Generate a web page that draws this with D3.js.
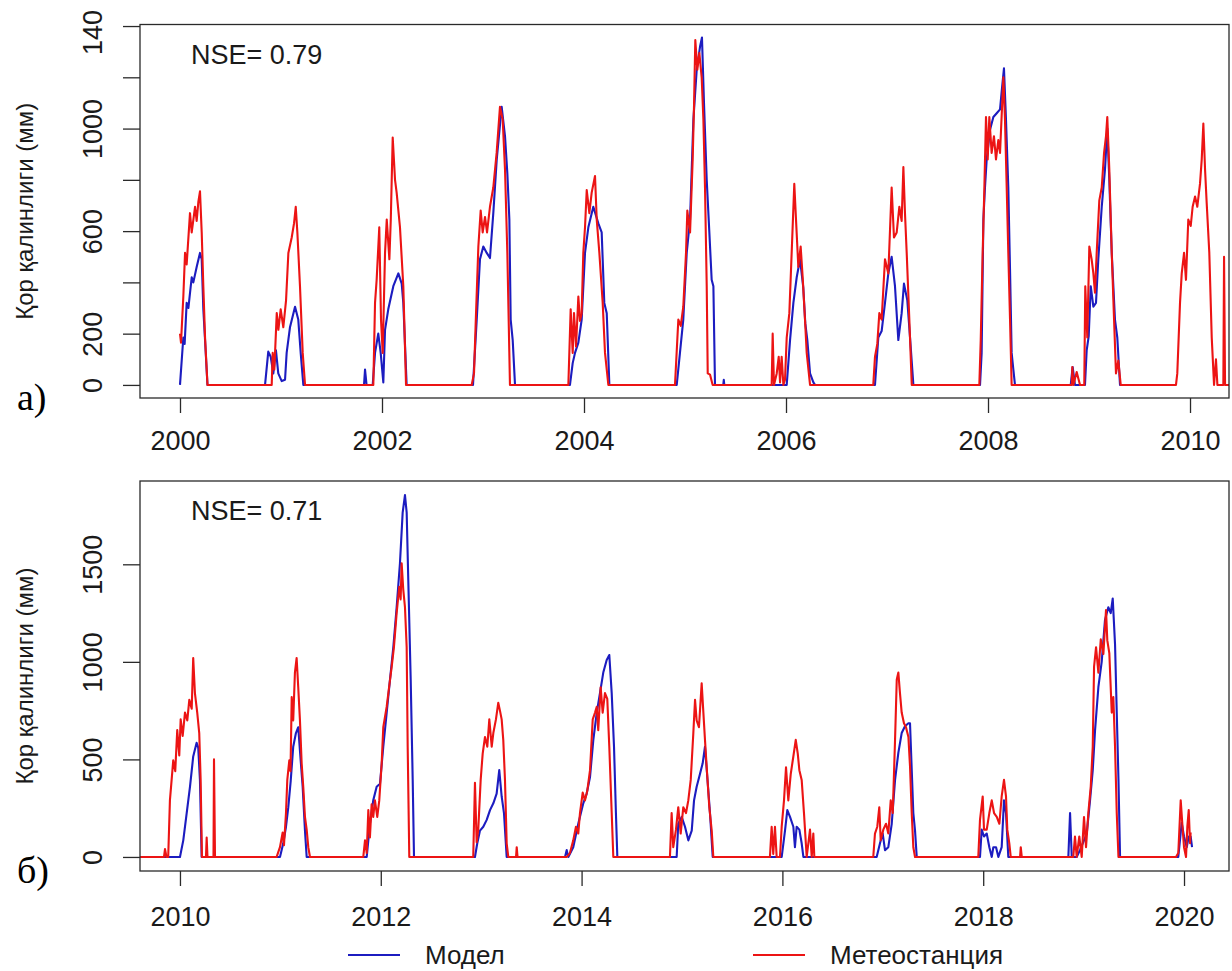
<!DOCTYPE html>
<html>
<head>
<meta charset="utf-8">
<script src="https://cdn.jsdelivr.net/npm/d3@7"></script>
<style>
  body { margin: 0; background: #fff; }
  svg { display: block; }
  text { font-family: "Liberation Sans", Arial, sans-serif; fill: #1a1a1a; }
  .tag { font-family: "Liberation Serif", "Times New Roman", serif; fill: #000; }
</style>
</head>
<body>
<svg></svg>
<script>
// series names / colours
var seriesNames = ["Модел", "Метеостанция"];
var seriesColors = ["#1c1cc0", "#ec1414"];
var yTitle = "Қор қалинлиги (мм)";

// panel a) ticks
var yearTicksA = [2000, 2002, 2004, 2006, 2008, 2010];
var depthTicksA = [0, 200, 400, 600, 800, 1000, 1200, 1400];
var depthLabelsA = ["0", "200", "", "600", "", "1000", "", "140"];
// panel б) ticks
var yearTicksB = [2010, 2012, 2014, 2016, 2018, 2020];
var depthTicksB = [0, 500, 1000, 1500];
var depthLabelsB = ["0", "500", "1000", "1500"];

// [year, snow depth mm]
var stationA = [
  [2000.000,200],[2000.010,165],[2000.033,345],[2000.050,515],[2000.066,470],[2000.099,670],[2000.116,595],[2000.149,695],[2000.165,640],[2000.182,715],[2000.198,755],[2000.215,595],[2000.231,385],[2000.248,185],[2000.272,0],
  [2000.908,0],[2000.918,125],[2000.934,60],[2000.958,280],[2000.974,215],[2000.997,295],[2001.023,225],[2001.050,330],[2001.073,515],[2001.106,575],[2001.129,630],[2001.146,695],[2001.162,595],[2001.188,385],[2001.215,125],[2001.238,0],
  [2001.914,0],[2001.931,320],[2001.947,410],[2001.973,615],[2001.990,255],[2002.007,125],[2002.030,515],[2002.047,645],[2002.073,490],[2002.087,645],[2002.106,965],[2002.129,800],[2002.145,750],[2002.178,615],[2002.211,385],[2002.238,0],
  [2002.888,0],[2002.911,45],[2002.931,280],[2002.954,540],[2002.977,680],[2002.997,595],[2003.020,655],[2003.040,595],[2003.069,695],[2003.102,770],[2003.135,905],[2003.168,1085],[2003.195,1035],[2003.218,840],[2003.241,515],[2003.267,0],
  [2003.845,0],[2003.868,295],[2003.888,125],[2003.901,280],[2003.921,150],[2003.944,345],[2003.960,250],[2003.977,280],[2003.993,515],[2004.010,615],[2004.027,760],[2004.053,670],[2004.076,750],[2004.109,815],[2004.126,645],[2004.152,515],[2004.185,320],[2004.208,125],[2004.241,0],
  [2004.901,0],[2004.934,255],[2004.958,230],[2004.983,305],[2005.010,515],[2005.023,680],[2005.050,595],[2005.076,880],[2005.089,1085],[2005.102,1345],[2005.122,1230],[2005.142,1295],[2005.165,1200],[2005.182,1035],[2005.198,770],[2005.215,385],[2005.225,45],[2005.248,40],[2005.274,0],
  [2005.858,0],[2005.868,200],[2005.881,0],[2005.908,45],[2005.928,110],[2005.941,10],[2005.957,110],[2005.974,0],[2005.990,20],[2006.007,185],[2006.033,280],[2006.056,515],[2006.082,785],[2006.099,645],[2006.122,460],[2006.145,540],[2006.165,420],[2006.188,255],[2006.205,125],[2006.238,0],
  [2006.864,0],[2006.881,110],[2006.904,160],[2006.924,280],[2006.947,255],[2006.980,490],[2007.013,435],[2007.046,770],[2007.069,575],[2007.096,595],[2007.122,695],[2007.145,640],[2007.162,850],[2007.178,670],[2007.195,515],[2007.221,255],[2007.245,0],
  [2007.914,0],[2007.928,175],[2007.947,515],[2007.964,770],[2007.980,1045],[2007.997,880],[2008.013,1045],[2008.036,905],[2008.059,970],[2008.079,880],[2008.102,955],[2008.119,905],[2008.139,1085],[2008.152,1200],[2008.168,1035],[2008.185,770],[2008.201,515],[2008.218,255],[2008.234,0],
  [2008.829,0],[2008.835,70],[2008.845,0],[2008.878,50],[2008.911,0],[2008.953,0],[2008.963,385],[2008.983,185],[2009.003,540],[2009.026,490],[2009.043,435],[2009.059,360],[2009.076,515],[2009.102,720],[2009.126,770],[2009.149,905],[2009.168,970],[2009.181,1045],[2009.201,840],[2009.225,515],[2009.248,255],[2009.267,45],[2009.290,95],[2009.314,0],
  [2009.861,0],[2009.874,45],[2009.901,320],[2009.918,435],[2009.941,515],[2009.960,410],[2009.983,645],[2010.007,620],[2010.026,695],[2010.050,735],[2010.072,695],[2010.099,785],[2010.116,880],[2010.132,1020],[2010.149,840],[2010.165,710],[2010.191,515],[2010.215,185],[2010.238,0],[2010.257,100],[2010.271,0],[2010.330,0],[2010.337,500],[2010.347,0],[2010.386,0]
];

var modelA = [
  [2000.000,0],[2000.033,185],[2000.046,160],[2000.066,320],[2000.083,300],[2000.116,420],[2000.132,400],[2000.165,460],[2000.198,515],[2000.215,490],[2000.231,295],[2000.248,175],[2000.272,0],
  [2000.842,0],[2000.874,130],[2000.898,110],[2000.924,45],[2000.950,135],[2000.973,45],[2001.007,15],[2001.040,20],[2001.056,125],[2001.089,225],[2001.139,305],[2001.171,255],[2001.195,125],[2001.221,0],
  [2001.822,0],[2001.832,60],[2001.847,0],[2001.908,0],[2001.931,125],[2001.963,200],[2001.987,125],[2002.013,10],[2002.030,215],[2002.062,295],[2002.112,385],[2002.162,435],[2002.195,395],[2002.211,320],[2002.244,0],
  [2002.901,0],[2002.938,255],[2002.970,490],[2003.003,540],[2003.037,515],[2003.069,495],[2003.102,670],[2003.136,880],[2003.185,1085],[2003.218,970],[2003.241,825],[2003.261,645],[2003.274,255],[2003.294,175],[2003.317,0],
  [2003.861,0],[2003.888,85],[2003.911,125],[2003.944,165],[2003.977,255],[2004.010,515],[2004.043,615],[2004.092,695],[2004.142,630],[2004.175,595],[2004.201,320],[2004.225,280],[2004.251,0],
  [2004.918,0],[2004.950,125],[2004.983,255],[2005.017,515],[2005.050,645],[2005.083,1035],[2005.116,1230],[2005.149,1320],[2005.168,1355],[2005.188,1100],[2005.215,800],[2005.241,595],[2005.264,410],[2005.281,385],[2005.297,0],[2005.379,0],[2005.384,20],[2005.389,0],
  [2006.007,0],[2006.040,175],[2006.073,320],[2006.106,420],[2006.139,490],[2006.171,380],[2006.191,240],[2006.211,175],[2006.238,45],[2006.271,10],[2006.287,0],
  [2006.881,0],[2006.914,185],[2006.947,210],[2006.980,320],[2007.013,435],[2007.046,500],[2007.079,385],[2007.112,175],[2007.145,280],[2007.168,395],[2007.201,330],[2007.228,185],[2007.261,0],
  [2007.921,0],[2007.937,125],[2007.954,645],[2007.970,770],[2007.987,880],[2008.020,995],[2008.053,1045],[2008.086,1060],[2008.119,1075],[2008.139,1160],[2008.158,1235],[2008.178,1035],[2008.201,770],[2008.218,450],[2008.234,125],[2008.251,60],[2008.267,0],
  [2008.819,0],[2008.838,70],[2008.861,0],[2008.960,0],[2008.977,135],[2008.997,190],[2009.017,385],[2009.043,305],[2009.069,320],[2009.092,490],[2009.126,695],[2009.158,840],[2009.181,1000],[2009.201,800],[2009.225,515],[2009.257,255],[2009.280,185],[2009.307,0],[2009.850,0]
];

var stationB = [
  [2009.602,0],[2009.841,0],[2009.851,40],[2009.866,0],[2009.883,0],[2009.900,290],[2009.917,395],[2009.933,495],[2009.953,440],[2009.973,650],[2009.993,520],[2010.007,705],[2010.027,620],[2010.050,740],[2010.073,700],[2010.093,805],[2010.117,760],[2010.132,1020],[2010.149,840],[2010.172,740],[2010.192,635],[2010.206,395],[2010.219,0],[2010.259,0],[2010.266,100],[2010.274,0],[2010.334,0],[2010.339,500],[2010.349,0],
  [2010.963,0],[2010.996,50],[2011.023,125],[2011.036,60],[2011.056,225],[2011.069,395],[2011.089,495],[2011.101,440],[2011.113,820],[2011.128,700],[2011.145,945],[2011.162,1020],[2011.178,870],[2011.195,700],[2011.212,480],[2011.228,360],[2011.245,205],[2011.262,140],[2011.278,50],[2011.295,0],
  [2011.826,0],[2011.843,85],[2011.860,20],[2011.876,240],[2011.892,100],[2011.909,270],[2011.925,205],[2011.942,290],[2011.965,205],[2011.985,290],[2012.009,480],[2012.025,665],[2012.059,770],[2012.083,870],[2012.109,975],[2012.131,1075],[2012.158,1250],[2012.184,1385],[2012.198,1320],[2012.208,1505],[2012.224,1370],[2012.241,1280],[2012.258,1075],[2012.268,565],[2012.284,0],
  [2012.921,0],[2012.938,380],[2012.955,75],[2012.971,140],[2012.995,395],[2013.015,530],[2013.038,615],[2013.061,565],[2013.081,705],[2013.105,565],[2013.121,635],[2013.147,705],[2013.170,790],[2013.187,750],[2013.204,705],[2013.220,600],[2013.237,395],[2013.254,70],[2013.270,0],[2013.347,0],[2013.354,50],[2013.362,0],
  [2013.852,0],[2013.884,20],[2013.917,85],[2013.944,155],[2013.967,120],[2013.984,225],[2014.011,330],[2014.034,290],[2014.057,340],[2014.084,445],[2014.111,705],[2014.134,740],[2014.151,770],[2014.166,650],[2014.190,870],[2014.210,740],[2014.233,840],[2014.256,810],[2014.276,565],[2014.300,225],[2014.316,0],
  [2014.880,0],[2014.897,225],[2014.913,50],[2014.940,140],[2014.963,255],[2014.987,120],[2015.013,255],[2015.040,225],[2015.063,290],[2015.087,395],[2015.113,635],[2015.130,805],[2015.146,700],[2015.169,665],[2015.196,890],[2015.213,740],[2015.229,600],[2015.246,460],[2015.272,255],[2015.296,135],[2015.312,0],
  [2015.876,0],[2015.893,155],[2015.909,15],[2015.926,155],[2015.943,0],[2015.976,0],[2015.993,155],[2016.016,290],[2016.036,460],[2016.059,290],[2016.083,425],[2016.109,515],[2016.133,600],[2016.153,530],[2016.169,445],[2016.192,395],[2016.215,225],[2016.242,0],[2016.275,140],[2016.292,0],[2016.308,120],[2016.318,0],
  [2016.905,0],[2016.922,120],[2016.945,155],[2016.965,255],[2016.979,85],[2017.005,140],[2017.032,170],[2017.055,120],[2017.079,290],[2017.099,225],[2017.122,600],[2017.139,910],[2017.155,945],[2017.171,840],[2017.188,740],[2017.211,685],[2017.231,665],[2017.255,615],[2017.271,465],[2017.288,225],[2017.304,50],[2017.321,0],
  [2017.951,0],[2017.968,190],[2017.995,310],[2018.008,140],[2018.035,140],[2018.061,225],[2018.085,290],[2018.108,225],[2018.135,205],[2018.161,170],[2018.184,310],[2018.207,395],[2018.227,310],[2018.240,140],[2018.260,70],[2018.274,0],[2018.367,0],[2018.374,50],[2018.384,0],
  [2018.897,0],[2018.914,105],[2018.931,0],[2018.957,105],[2018.981,0],[2019.004,205],[2019.024,50],[2019.047,225],[2019.071,360],[2019.091,565],[2019.104,975],[2019.124,1075],[2019.147,945],[2019.171,1115],[2019.197,1040],[2019.223,1265],[2019.236,1110],[2019.256,1045],[2019.280,740],[2019.296,820],[2019.313,565],[2019.330,225],[2019.347,0],
  [2019.920,0],[2019.943,20],[2019.967,290],[2019.987,140],[2020.000,50],[2020.020,0],[2020.033,155],[2020.047,240],[2020.060,70],[2020.066,125]
];

var modelB = [
  [2009.602,0],[2010.000,0],[2010.033,85],[2010.067,225],[2010.100,360],[2010.132,515],[2010.166,585],[2010.182,560],[2010.199,395],[2010.216,0],
  [2010.996,0],[2011.029,70],[2011.056,155],[2011.079,255],[2011.103,390],[2011.128,565],[2011.155,635],[2011.178,665],[2011.195,545],[2011.222,360],[2011.245,135],[2011.262,0],
  [2011.860,0],[2011.892,170],[2011.925,290],[2011.959,360],[2011.992,375],[2012.025,565],[2012.059,740],[2012.092,910],[2012.125,1075],[2012.158,1280],[2012.191,1505],[2012.218,1765],[2012.241,1855],[2012.258,1765],[2012.274,1420],[2012.298,910],[2012.318,395],[2012.331,0],
  [2012.938,0],[2012.961,70],[2012.988,135],[2013.021,155],[2013.055,190],[2013.088,240],[2013.121,275],[2013.154,325],[2013.180,445],[2013.204,310],[2013.227,225],[2013.254,0],
  [2013.835,0],[2013.852,35],[2013.868,0],[2013.917,50],[2013.967,170],[2014.017,275],[2014.051,325],[2014.084,410],[2014.117,600],[2014.151,740],[2014.183,840],[2014.216,945],[2014.250,1010],[2014.276,1035],[2014.300,840],[2014.323,565],[2014.342,225],[2014.356,0],
  [2014.947,0],[2014.963,170],[2014.997,205],[2015.030,155],[2015.063,85],[2015.097,135],[2015.120,290],[2015.146,360],[2015.179,425],[2015.206,480],[2015.229,565],[2015.252,410],[2015.279,225],[2015.306,0],
  [2015.993,0],[2016.026,135],[2016.049,240],[2016.076,205],[2016.109,155],[2016.125,50],[2016.142,155],[2016.169,140],[2016.192,70],[2016.209,0],
  [2016.939,0],[2016.972,70],[2016.999,120],[2017.022,35],[2017.055,50],[2017.089,170],[2017.122,395],[2017.155,535],[2017.188,635],[2017.221,670],[2017.255,685],[2017.271,685],[2017.304,225],[2017.321,135],[2017.338,0],
  [2017.968,0],[2017.985,140],[2018.008,105],[2018.035,120],[2018.061,50],[2018.085,0],[2018.101,50],[2018.128,50],[2018.151,0],[2018.184,50],[2018.207,290],[2018.227,225],[2018.250,0],
  [2018.848,0],[2018.865,225],[2018.882,0],[2018.931,0],[2018.964,35],[2019.004,85],[2019.031,120],[2019.064,290],[2019.091,445],[2019.114,650],[2019.147,870],[2019.180,1000],[2019.213,1215],[2019.246,1280],[2019.270,1250],[2019.290,1325],[2019.313,1090],[2019.330,740],[2019.347,400],[2019.363,0],
  [2019.943,0],[2019.977,175],[2020.000,105],[2020.027,50],[2020.047,105],[2020.066,105],[2020.080,50]
];

var width = 1232, height = 971;

var svg = d3.select("svg")
  .attr("width", width)
  .attr("height", height);

// R-style padded limits for each panel
var panels = [
  { id: "a", tag: "а)", nse: "NSE= 0.79",
    box: { left: 140, right: 1229, top: 24.5, bottom: 398 },
    xDomain: [1999.604, 2010.386], yDomain: [-51, 1406],
    yearTicks: yearTicksA, depthTicks: depthTicksA, depthLabels: depthLabelsA,
    model: modelA, station: stationA },
  { id: "b", tag: "б)", nse: "NSE= 0.71",
    box: { left: 140, right: 1229, top: 481, bottom: 871 },
    xDomain: [2009.602, 2020.448], yDomain: [-72, 1927],
    yearTicks: yearTicksB, depthTicks: depthTicksB, depthLabels: depthLabelsB,
    model: modelB, station: stationB }
];

panels.forEach(drawPanel);
drawLegend();

function drawPanel(p) {
  var b = p.box;
  var x = d3.scaleLinear().domain(p.xDomain).range([b.left, b.right]);
  var y = d3.scaleLinear().domain(p.yDomain).range([b.bottom, b.top]);

  var g = svg.append("g").attr("class", "panel-" + p.id);

  g.append("clipPath")
      .attr("id", "clip-" + p.id)
    .append("rect")
      .attr("x", b.left).attr("y", b.top)
      .attr("width", b.right - b.left).attr("height", b.bottom - b.top);

  var line = d3.line()
    .x(function(d) { return x(d[0]); })
    .y(function(d) { return y(d[1]); });

  var lines = g.append("g").attr("clip-path", "url(#clip-" + p.id + ")");
  [p.model, p.station].forEach(function(series, i) {
    lines.append("path")
      .datum(series)
      .attr("fill", "none")
      .attr("stroke", seriesColors[i])
      .attr("stroke-width", 2.1)
      .attr("stroke-linejoin", "round")
      .attr("d", line);
  });

  // frame
  g.append("rect")
    .attr("x", b.left).attr("y", b.top)
    .attr("width", b.right - b.left).attr("height", b.bottom - b.top)
    .attr("fill", "none")
    .attr("stroke", "#2a2a2a")
    .attr("stroke-width", 1.3);

  // x axis
  var xAxis = d3.axisBottom(x)
    .tickValues(p.yearTicks)
    .tickFormat(d3.format("d"))
    .tickSize(15)
    .tickPadding(p.id === "a" ? 18 : 21);
  var gx = g.append("g")
    .attr("transform", "translate(0," + b.bottom + ")")
    .call(xAxis);
  gx.select(".domain").remove();
  gx.selectAll(".tick line").attr("stroke", "#2a2a2a").attr("stroke-width", 1.3);
  gx.selectAll(".tick text")
    .attr("font-size", 27)
    .attr("font-family", "Liberation Sans, Arial, sans-serif")
    .attr("fill", "#1a1a1a");

  // y axis, labels rotated like R's default las = 0
  var yAxis = d3.axisLeft(y)
    .tickValues(p.depthTicks)
    .tickSize(17)
    .tickFormat(function(d, i) { return p.depthLabels[i]; });
  var gy = g.append("g")
    .attr("transform", "translate(" + b.left + ",0)")
    .call(yAxis);
  gy.select(".domain").remove();
  gy.selectAll(".tick line").attr("stroke", "#2a2a2a").attr("stroke-width", 1.3);
  gy.selectAll(".tick text")
    .attr("font-size", 27)
    .attr("font-family", "Liberation Sans, Arial, sans-serif")
    .attr("fill", "#1a1a1a")
    .attr("text-anchor", "middle")
    .attr("x", null).attr("dy", null)
    .attr("transform", function(d, i) {
      // the top label of panel a) sits clipped at the edge of the figure
      var shift = (p.id === "a" && i === p.depthTicks.length - 1) ? 6 : 0;
      return "translate(-38," + shift + ") rotate(-90)";
    });

  // axis title
  g.append("text")
    .attr("transform", "translate(33," + ((b.top + b.bottom) / 2) + ") rotate(-90)")
    .attr("text-anchor", "middle")
    .attr("font-size", 24)
    .text(yTitle);

  // NSE annotation
  g.append("text")
    .attr("x", b.left + 51)
    .attr("y", b.top + 39)
    .attr("font-size", 27)
    .text(p.nse);

  // panel tag
  g.append("text")
    .attr("class", "tag")
    .attr("x", 17)
    .attr("y", b.bottom + 12)
    .attr("font-size", 38)
    .text(p.tag);
}

function drawLegend() {
  var items = [
    { x: 348, name: seriesNames[0], color: seriesColors[0] },
    { x: 753, name: seriesNames[1], color: seriesColors[1] }
  ];
  var lg = svg.append("g").attr("class", "legend");
  var entries = lg.selectAll("g")
    .data(items)
    .enter().append("g")
      .attr("transform", function(d) { return "translate(" + d.x + ",955)"; });
  entries.append("line")
    .attr("x1", 0).attr("x2", 52)
    .attr("stroke", function(d) { return d.color; })
    .attr("stroke-width", 2);
  entries.append("text")
    .attr("x", 77)
    .attr("y", 9)
    .attr("font-size", 26)
    .text(function(d) { return d.name; });
}
</script>
</body>
</html>
